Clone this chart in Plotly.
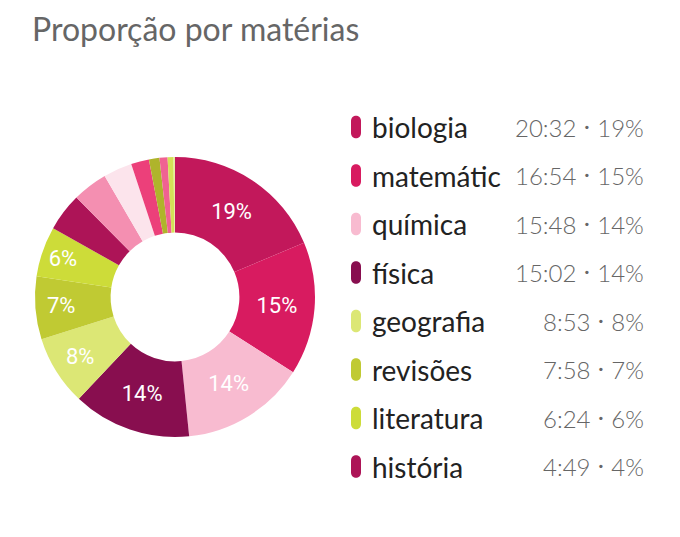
import plotly.graph_objects as go

W, H = 672, 529   # a página tem 8px de margem no body
OFF = 8

# dados (minutos por matéria)
materias = ["biologia", "matemática", "química", "física", "geografia",
            "revisões", "literatura", "história"]
rotulos = ["biologia", "matemátic", "química", "física", "geografia",
           "revisões", "literatura", "história"]
tempos = ["20:32", "16:54", "15:48", "15:02", "8:53", "7:58", "6:24", "4:49"]
cores = ["#C2185B", "#D81B60", "#F8BBD0", "#880E4F", "#DCE775",
         "#C0CA33", "#CDDC39", "#AD1457"]

# fatias pequenas sem legenda
outras = ["outra 1", "outra 2", "outra 3", "outra 4", "outra 5", "outra 6", "outra 7"]
outras_min = [268, 219, 137, 80, 61, 45, 11]
outras_cores = ["#F48FB1", "#FCE4EC", "#EC407A", "#AFB42B", "#F06292", "#D4E157", "#E6EE9C"]


def para_minutos(t):
    h, m = t.split(":")
    return int(h) * 60 + int(m)


minutos = [para_minutos(t) for t in tempos]
total = sum(minutos) + sum(outras_min)

labels = materias + outras
values = minutos + outras_min
colors = cores + outras_cores
# só mostra o rótulo nas fatias maiores
templates = ["%{percent:.0%}" if v / total >= 0.05 else "" for v in values]


def px(x):
    return (x - OFF) / W


def py(y):
    return 1 - (y - OFF) / H


fig = go.Figure()
fig.add_trace(go.Pie(
    labels=labels,
    values=values,
    marker=dict(colors=colors, line=dict(width=0)),
    hole=0.46,
    sort=False,
    direction="clockwise",
    rotation=0,
    texttemplate=templates,
    textposition="inside",
    insidetextorientation="horizontal",
    textfont=dict(family="Roboto", size=22, color="white"),
    showlegend=False,
    domain=dict(x=[px(35), px(315)], y=[py(437), py(157)]),
))

annotations = [dict(
    text="Proporção por matérias", x=px(30), y=py(28), xref="paper", yref="paper",
    xanchor="left", yanchor="middle", showarrow=False,
    font=dict(family="Lato", size=32, color="#666666"),
)]
shapes = []

# legenda à direita
y0, passo = 127, 48.5
for i, (nome, t, m, c) in enumerate(zip(rotulos, tempos, minutos, cores)):
    y = y0 + i * passo
    shapes.append(dict(
        type="path", xref="paper", yref="paper",
        xsizemode="pixel", ysizemode="pixel", xanchor=px(356), yanchor=py(y),
        path="M -5,-6 L -5,6 C -5,13 5,13 5,6 L 5,-6 C 5,-13 -5,-13 -5,-6 Z",
        fillcolor=c, line=dict(width=0),
    ))
    annotations.append(dict(
        text=nome, x=px(370), y=py(y), xref="paper", yref="paper",
        xanchor="left", yanchor="middle", showarrow=False,
        font=dict(family="Lato", size=28, color="#222222"),
    ))
    annotations.append(dict(
        text=f"{t} <span style='font-size:32px'>·</span> {round(m / total * 100)}%",
        x=px(646), y=py(y), xref="paper", yref="paper", yshift=3,
        xanchor="right", yanchor="middle", showarrow=False,
        font=dict(family="Lato", size=24, color="#666666", weight=300),
    ))

fig.update_layout(
    width=W, height=H,
    margin=dict(l=0, r=0, t=0, b=0),
    paper_bgcolor="white",
    plot_bgcolor="white",
    annotations=annotations,
    shapes=shapes,
    uniformtext=dict(minsize=22, mode="show"),
)

fig.write_html("out.html")
